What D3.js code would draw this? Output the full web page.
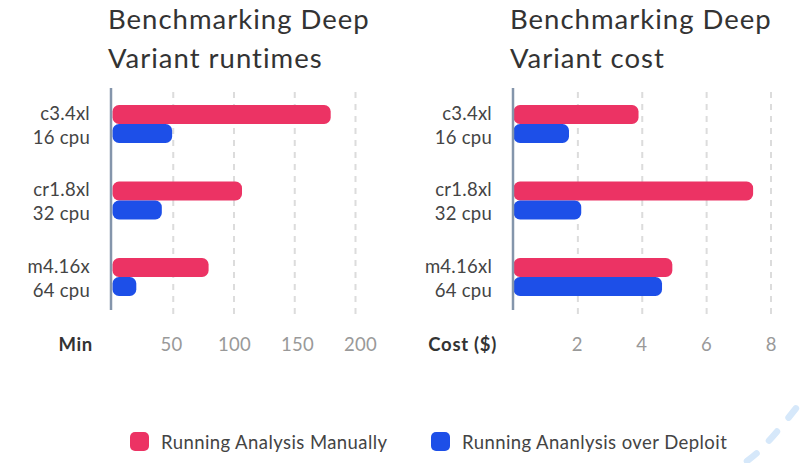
<!DOCTYPE html>
<html>
<head>
<meta charset="utf-8">
<script src="https://cdn.jsdelivr.net/npm/d3@7"></script>
<style>
  html, body { margin: 0; padding: 0; background: #fff; }
  text { font-family: Lato, "Open Sans", sans-serif; }
</style>
</head>
<body>
<div id="chart"></div>
<script>
let width = 800, height = 463;

// data
const runtimeCategories = ['c3.4xl', 'cr1.8xl', 'm4.16x'];
const costCategories = ['c3.4xl', 'cr1.8xl', 'm4.16xl'];
const cpus = ['16 cpu', '32 cpu', '64 cpu'];
const seriesNames = ['Running Analysis Manually', 'Running Ananlysis over Deploit'];
const seriesColors = ['#ec3364', '#1d4fe8'];

const runtimeManual = [180, 107, 79.5];
const runtimeDeploit = [49.5, 41, 20];
const costManual = [3.9, 7.46, 4.95];
const costDeploit = [1.74, 2.12, 4.63];

const runtimeTicks = [50, 100, 150, 200];
const costTicks = [2, 4, 6, 8];

// the faint dashed arc in the corner, not data
const cornerArc = [[812, 388], [797, 407], [780, 428], [758, 452], [735, 470]];

let svg = d3.select('#chart').append('svg')
  .attr('width', width).attr('height', height)
  .style('display', 'block');

svg.append('path')
  .attr('d', d3.line().curve(d3.curveCatmullRom)(cornerArc))
  .attr('fill', 'none')
  .attr('stroke', '#d6e8fa')
  .attr('stroke-width', 6.5)
  .attr('stroke-linecap', 'round')
  .attr('stroke-dasharray', '12 18')
  .attr('stroke-dashoffset', 4);

function drawPanel(opts) {
  let x = d3.scaleLinear().domain(opts.domain).range(opts.range);
  let y = d3.scalePoint().domain(opts.categories).range([124, 277]);
  let sub = d3.scaleBand().domain(seriesNames).range([-19, 19]);
  // the value labels sit a little off their gridlines in the original
  let labelX = d3.scaleLinear().domain(d3.extent(opts.ticks)).range(opts.labelRange);

  // title
  svg.selectAll(null)
    .data(opts.title)
    .enter()
    .append('text')
    .attr('x', opts.titleX)
    .attr('y', (d, i) => 29 + i * 38.5)
    .attr('font-size', 27.5)
    .attr('letter-spacing', 1)
    .attr('fill', '#333')
    .text(d => d);

  // dashed grid
  let grid = svg.append('g')
    .attr('transform', 'translate(0,314)')
    .call(d3.axisBottom(x).tickValues(opts.ticks).tickSize(-226).tickFormat(''));
  grid.select('.domain').remove();
  grid.selectAll('line')
    .attr('stroke', '#dcdcdc')
    .attr('stroke-width', 2)
    .attr('stroke-dasharray', '6 6');

  // bars
  [opts.manual, opts.deploit].forEach((values, s) => {
    svg.append('g').selectAll('rect')
      .data(values)
      .enter()
      .append('rect')
      .attr('x', x(0) + 0.5)
      .attr('y', (d, i) => y(opts.categories[i]) + sub(seriesNames[s]))
      .attr('width', d => x(d) - x(0) - 0.5)
      .attr('height', sub.bandwidth())
      .attr('rx', 6.5)
      .attr('fill', seriesColors[s]);
  });

  // category axis
  let yAxis = svg.append('g')
    .attr('transform', `translate(${opts.axisX},0)`)
    .call(d3.axisLeft(y).tickSize(0).tickFormat(''));
  yAxis.select('.domain').remove();
  yAxis.append('line')
    .attr('y1', 88).attr('y2', 310)
    .attr('stroke', '#8495ab')
    .attr('stroke-width', 2.5);
  yAxis.selectAll('.tick').each(function (d, i) {
    let t = d3.select(this);
    t.select('text').remove();
    let label = t.append('text')
      .attr('text-anchor', 'end')
      .attr('font-size', 18.5)
      .attr('letter-spacing', 0.25)
      .attr('fill', '#444');
    label.append('tspan').attr('x', -21).attr('y', -5).text(d);
    label.append('tspan').attr('x', -21).attr('y', 19).text(cpus[i]);
  });

  // value labels
  let xAxis = svg.append('g')
    .attr('transform', 'translate(0,338)')
    .call(d3.axisBottom(labelX).tickValues(opts.ticks).tickSize(0).tickFormat(d => d));
  xAxis.select('.domain').remove();
  xAxis.selectAll('text')
    .attr('y', 0)
    .attr('dy', 13)
    .attr('font-size', 18.5)
    .attr('letter-spacing', 0.3)
    .attr('font-family', 'Lato, sans-serif')
    .attr('fill', '#999');

  svg.append('text')
    .attr('x', opts.unitX)
    .attr('y', 351)
    .attr('text-anchor', 'end')
    .attr('font-size', 18.5)
    .attr('letter-spacing', 0.7)
    .attr('font-weight', 700)
    .attr('fill', '#333')
    .text(opts.unit);
}

drawPanel({
  title: ['Benchmarking Deep', 'Variant runtimes'],
  titleX: 108,
  axisX: 111,
  categories: runtimeCategories,
  manual: runtimeManual,
  deploit: runtimeDeploit,
  ticks: runtimeTicks,
  domain: [0, 200],
  range: [112, 355],
  labelRange: [171, 360],
  unit: 'Min',
  unitX: 93
});

drawPanel({
  title: ['Benchmarking Deep', 'Variant cost'],
  titleX: 510,
  axisX: 513,
  categories: costCategories,
  manual: costManual,
  deploit: costDeploit,
  ticks: costTicks,
  domain: [0, 8],
  range: [513, 770.5],
  labelRange: [576.7, 770.7],
  unit: 'Cost ($)',
  unitX: 497
});

// legend
const legendKeys = [130, 431];
let legend = svg.selectAll('.legend-item')
  .data(seriesNames)
  .enter()
  .append('g')
  .attr('class', 'legend-item')
  .attr('transform', (d, i) => `translate(${legendKeys[i]},432)`);
legend.append('rect')
  .attr('width', 19).attr('height', 19)
  .attr('rx', 5)
  .attr('fill', (d, i) => seriesColors[i]);
legend.append('text')
  .attr('x', 31)
  .attr('y', 17)
  .attr('font-size', 18.5)
  .attr('letter-spacing', 0.43)
  .attr('fill', '#444')
  .text(d => d);
</script>
</body>
</html>
